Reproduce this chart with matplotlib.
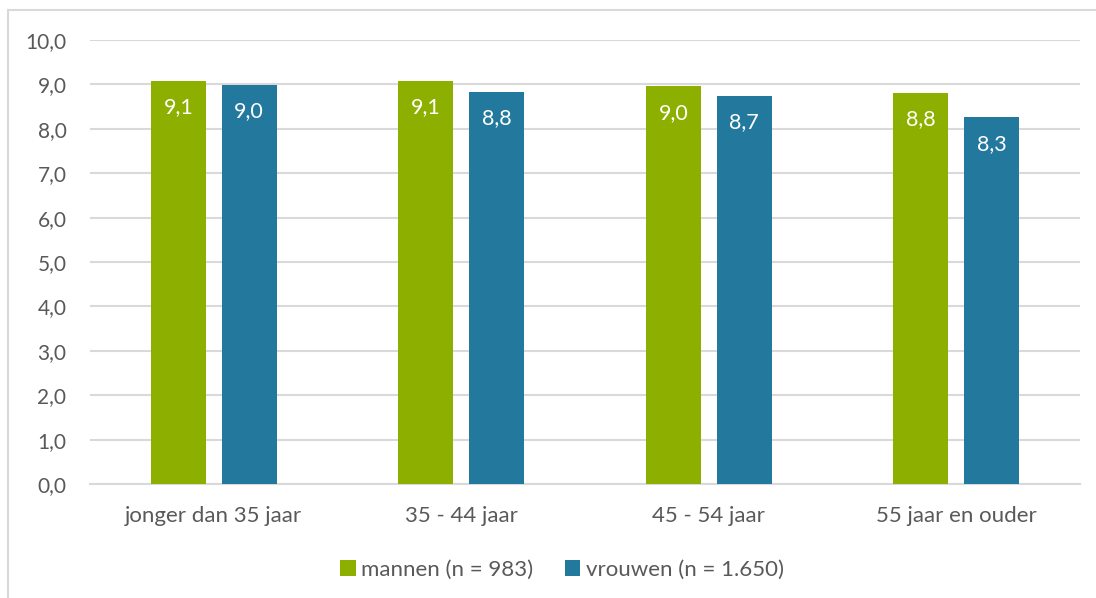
import matplotlib.pyplot as plt
import numpy as np
from matplotlib.lines import Line2D

plt.rcParams['font.family'] = ['Lato', 'DejaVu Sans']

categories = ['jonger dan 35 jaar', '35 - 44 jaar', '45 - 54 jaar', '55 jaar en ouder']
mannen = [9.08, 9.08, 8.96, 8.81]
vrouwen = [8.99, 8.83, 8.74, 8.26]
series_names = ['mannen (n = 983)', 'vrouwen (n = 1.650)']
yticks = np.arange(0, 11, 1)

green = '#8DB000'
blue = '#23799D'
text_col = '#595959'
grid_col = '#D9D9D9'

W, H = 1096, 598
fig = plt.figure(figsize=(W / 100, H / 100), dpi=100)
ax = fig.add_axes([90 / W, 1 - 484 / H, 990 / W, 444 / H])

x = np.arange(len(categories))
bw = 0.222
off = 0.143
b1 = ax.bar(x - off, mannen, bw, color=green, label=series_names[0], zorder=3)
b2 = ax.bar(x + off, vrouwen, bw, color=blue, label=series_names[1], zorder=3)

for bars, vals in ((b1, mannen), (b2, vrouwen)):
    for r, v in zip(bars, vals):
        ax.text(r.get_x() + r.get_width() / 2, v - 0.6, f'{v:.1f}'.replace('.', ','),
                ha='center', va='center', color='white', fontsize=15.5, zorder=4)

ax.set_xlim(-0.5, len(categories) - 0.5)
ax.set_ylim(0, 10)
ax.set_yticks(yticks)
ax.set_yticklabels([f'{t:.1f}'.replace('.', ',') for t in yticks])
ax.set_xticks(x)
ax.set_xticklabels(categories)
ax.tick_params(axis='both', length=0, colors=text_col)
ax.tick_params(axis='y', pad=17, labelsize=15)
ax.tick_params(axis='x', pad=16, labelsize=16)
ax.yaxis.grid(True, color=grid_col, linewidth=1.5, zorder=0)
for s in ['top', 'right', 'left']:
    ax.spines[s].set_visible(False)
ax.spines['bottom'].set_color(grid_col)
ax.spines['bottom'].set_linewidth(1.5)

fig.legend(handles=[b1, b2], loc='center', bbox_to_anchor=(562 / W, 1 - 570 / H),
           ncol=2, frameon=False, fontsize=16, labelcolor=text_col,
           handlelength=0.7, handleheight=0.7, handletextpad=0.25, columnspacing=1.4)

# outer chart border
fig.add_artist(Line2D([8 / W, 8 / W], [0, 1 - 10 / H], color=grid_col, linewidth=1.5))
fig.add_artist(Line2D([8 / W, 1], [1 - 10 / H, 1 - 10 / H], color=grid_col, linewidth=1.5))

fig.savefig('out.png', dpi=100, facecolor='white')
